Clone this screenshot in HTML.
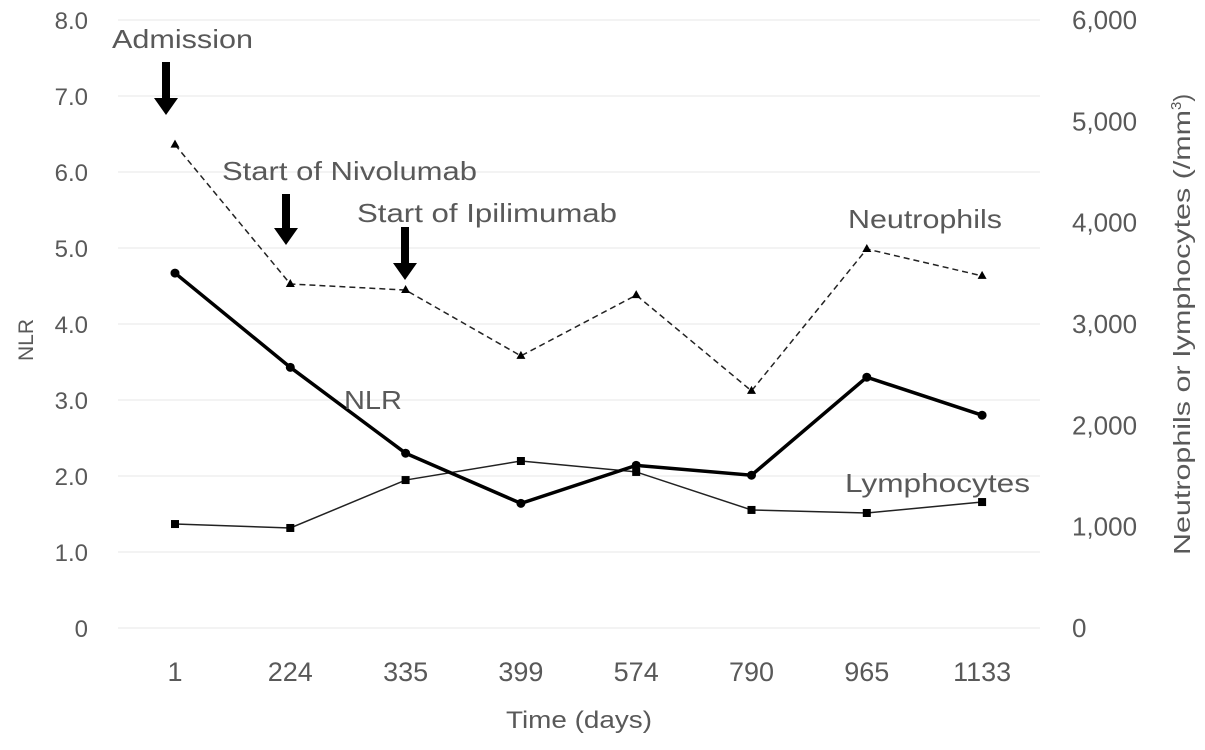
<!DOCTYPE html>
<html><head><meta charset="utf-8"><style>
body{margin:0;background:#fff}
svg{display:block}
text{font-family:"Liberation Sans",sans-serif;fill:#595959}
</style></head><body>
<svg id="chart" width="1205" height="750" viewBox="0 0 1205 750">
<g id="grid"></g>
<g id="axes"></g>
<g id="series"></g>
<g id="annot">
  <text x="112" y="48" font-size="26" textLength="141" lengthAdjust="spacingAndGlyphs">Admission</text>
  <text x="222" y="180" font-size="26" textLength="255" lengthAdjust="spacingAndGlyphs">Start of Nivolumab</text>
  <text x="357" y="222" font-size="26" textLength="260" lengthAdjust="spacingAndGlyphs">Start of Ipilimumab</text>
  <text x="848" y="228" font-size="26" textLength="154" lengthAdjust="spacingAndGlyphs">Neutrophils</text>
  <text x="344" y="409" font-size="26" textLength="58" lengthAdjust="spacingAndGlyphs">NLR</text>
  <text x="845" y="492" font-size="26" textLength="185" lengthAdjust="spacingAndGlyphs">Lymphocytes</text>
  <path d="M162,62h8v36h8l-12,17l-12,-17h8z" fill="#000"/>
  <path d="M282,194h8v34h8l-12,17l-12,-17h8z" fill="#000"/>
  <path d="M401,227h8v36h8l-12,17l-12,-17h8z" fill="#000"/>
  <text x="506" y="728" font-size="24" textLength="146" lengthAdjust="spacingAndGlyphs">Time (days)</text>
  <text transform="translate(33,340) rotate(-90)" font-size="21" text-anchor="middle">NLR</text>
  <text transform="translate(1190,555) rotate(-90)" font-size="23"><tspan textLength="445" lengthAdjust="spacingAndGlyphs">Neutrophils or lymphocytes (/mm</tspan><tspan font-size="15" dy="-9">3</tspan><tspan dy="9">)</tspan></text>
</g>
</svg>
<script>
const categories=["1","224","335","399","574","790","965","1133"];
const nlr=[4.67,3.43,2.30,1.64,2.14,2.01,3.30,2.80];
const neutrophils=[4770,3395,3335,2685,3285,2340,3740,3475];
const lymphocytes=[1026,987,1460,1648,1540,1165,1135,1243];
const leftTicks=[0,1,2,3,4,5,6,7,8];
const leftTickLabels=["0","1.0","2.0","3.0","4.0","5.0","6.0","7.0","8.0"];
const rightTicks=[0,1000,2000,3000,4000,5000,6000];
const rightTickLabels=["0","1,000","2,000","3,000","4,000","5,000","6,000"];

const NS="http://www.w3.org/2000/svg";
const x=i=>175+i*115.3;
const yL=v=>628-v*76;
const yR=v=>628-v*(608/6000);
function mk(tag,attrs,parent){const e=document.createElementNS(NS,tag);for(const k in attrs)e.setAttribute(k,attrs[k]);parent.appendChild(e);return e;}
const grid=document.getElementById('grid'),axes=document.getElementById('axes'),ser=document.getElementById('series');
leftTicks.forEach((t,i)=>{
  const g=mk('line',{x1:118,x2:1040,y1:yL(t),y2:yL(t),stroke:'#ececec','stroke-width':1.2},grid);
  
  
  const tx=mk('text',{x:88,y:yL(t)+9,'font-size':24,'text-anchor':'end'},axes);
  tx.textContent=leftTickLabels[i];
  
  
});
rightTicks.forEach((t,i)=>{
  const tx=mk('text',{x:1072,y:yR(t)+9,'font-size':26},axes);
  tx.textContent=rightTickLabels[i];
  
  
});
categories.forEach((c,i)=>{
  const tx=mk('text',{x:x(i),y:681,'font-size':27,'text-anchor':'middle'},axes);
  tx.textContent=c;
  
  
});
function line(vals,sc,attrs,name){
  const p=mk('polyline',Object.assign({points:vals.map((v,i)=>x(i)+','+sc(v)).join(' '),fill:'none'},attrs),ser);
  
  
}
line(neutrophils,yR,{stroke:'#222','stroke-width':1.5,'stroke-dasharray':'6,4'},'neutrophils-line');
line(lymphocytes,yR,{stroke:'#222','stroke-width':1.5},'lymphocytes-line');
line(nlr,yL,{stroke:'#000','stroke-width':3.5},'nlr-line');
neutrophils.forEach((v,i)=>{
  const m=mk('path',{d:`M${x(i)},${yR(v)-5}l4.5,8h-9z`,fill:'#000'},ser);
  
  
});
lymphocytes.forEach((v,i)=>{
  const m=mk('rect',{x:x(i)-4,y:yR(v)-4,width:8,height:8,fill:'#000'},ser);
  
  
});
nlr.forEach((v,i)=>{
  const m=mk('circle',{cx:x(i),cy:yL(v),r:4.5,fill:'#000'},ser);
  
  
});
</script>
</body></html>
